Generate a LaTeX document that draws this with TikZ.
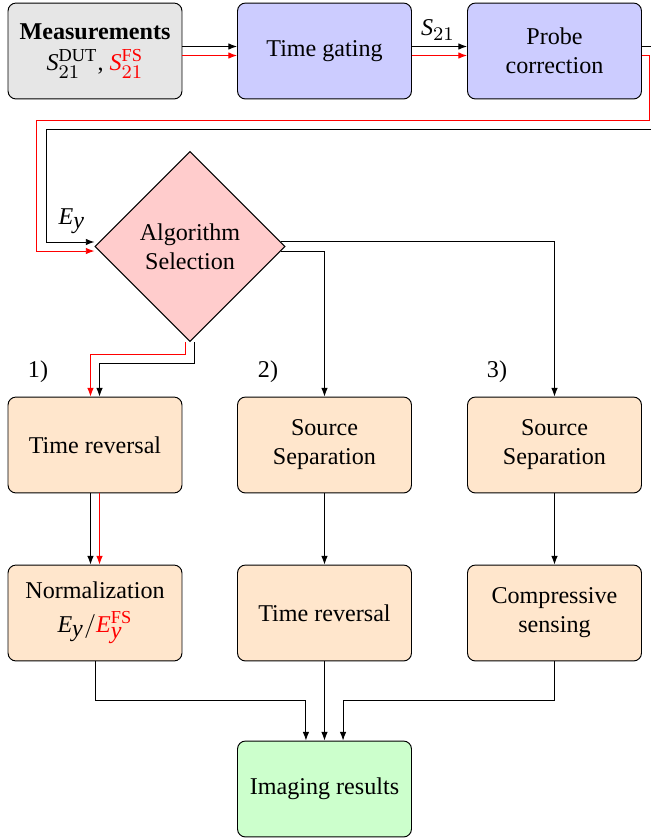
\documentclass[tikz,border=0pt]{standalone}
\usepackage{fontspec}
\setmainfont{Liberation Serif}
\setmathrm{Liberation Serif}
\DeclareMathSizes{10}{10}{7.6}{5.5}
\definecolor{mGray}{HTML}{E6E6E6}
\definecolor{mBlue}{HTML}{CCCCFF}
\definecolor{mRose}{HTML}{FFCCCC}
\definecolor{mPeach}{HTML}{FFE6CC}
\definecolor{mMint}{HTML}{CCFFCC}
\newcommand{\pairsep}{1.87pt}
\newcommand{\Sv}{\textit{S}}
\newcommand{\Ev}{\textit{E}}
\newcommand{\yv}{\textit{y}}
\usetikzlibrary{arrows.meta, shapes.geometric}

\begin{document}
\begin{tikzpicture}[x=0.415pt, y=-0.415pt,
  box/.style={draw, rounded corners=3.3pt, minimum width=72.2pt,
              minimum height=39.8pt, align=center, inner sep=1pt},
  dec/.style={draw, diamond, fill=mRose, minimum size=78.9pt,
              inner sep=0pt, align=center},
  arr/.style={-{Latex[length=3.6pt, width=2.7pt]}}]
  \useasboundingbox (0,0) rectangle (650,839);
  % top row
  \node[box, fill=mGray] (meas) at (95,51)
    {\textbf{Measurements}\\[1pt]$\Sv_{21}^{\mathrm{DUT}}$, \textcolor{red}{$\Sv_{21}^{\mathrm{FS}}$}};
  \node[box, fill=mBlue] (tg) at (324.5,51) {Time gating};
  \node[box, fill=mBlue] (probe) at (554.5,51) {Probe\\correction};
  % selection
  \node[dec] (alg) at (190,246.5) {Algorithm\\Selection};
  \node (n1) at (38,372) {1)};
  \node (n2) at (268,372) {2)};
  \node (n3) at (497,372) {3)};
  % three branches
  \node[box, fill=mPeach] (tr1) at (95,445) {Time reversal};
  \node[box, fill=mPeach] (ss2) at (324.5,445) {Source\\Separation};
  \node[box, fill=mPeach] (ss3) at (554.5,445) {Source\\Separation};
  \node[box, fill=mPeach] (norm) at (95,613)
    {Normalization\\[2pt]$\Ev_{\yv}/\textcolor{red}{\Ev_{\yv}^{\mathrm{FS}}}$};
  \node[box, fill=mPeach] (trv2) at (324.5,613) {Time reversal};
  \node[box, fill=mPeach] (cs) at (554.5,613) {Compressive\\sensing};
  \node[box, fill=mMint] (img) at (324.5,789) {Imaging results};
  % black/red signal pairs
  \foreach \col/\sg/\ox/\ty/\lx in {black/1/17/129/46, red/-1/8/120/36}{
    \draw[arr, \col] ([yshift=\sg*\pairsep]meas.east) -- ([yshift=\sg*\pairsep]tg.west);
    \draw[arr, \col] ([yshift=\sg*\pairsep]tg.east) -- ([yshift=\sg*\pairsep]probe.west);
    \draw[arr, \col] ([yshift=\sg*\pairsep]probe.east) -- ++(\ox,0) |- (\lx,\ty)
      |- ([yshift=\sg*\pairsep]alg.west);
    \draw[arr, \col] ([xshift=-\sg*\pairsep]tr1.south) -- ([xshift=-\sg*\pairsep]norm.north);}
  \node (s21) at (438,30) {$\Sv_{21}$};
  \node (ey) at (72,221) {$\Ev_{\yv}$};
  \draw[arr, red] ([xshift=-\pairsep]alg.south) -- ++(0,12) -| ([xshift=-\pairsep]tr1.north);
  \draw[arr] ([xshift=\pairsep]alg.south) -- ++(0,21) -| ([xshift=\pairsep]tr1.north);
  \draw[arr] (alg.3) -| (ss3.north);
  \draw[arr] (alg.-3) -| (ss2.north);
  \draw[arr] (ss2) -- (trv2);
  \draw[arr] (ss3) -- (cs);
  % results
  \draw[arr] (norm.south) -- ++(0,39) -| ([xshift=-7.7pt]img.north);
  \draw[arr] (trv2) -- (img);
  \draw[arr] (cs.south) -- ++(0,39) -| ([xshift=7.7pt]img.north);
\end{tikzpicture}
\end{document}
